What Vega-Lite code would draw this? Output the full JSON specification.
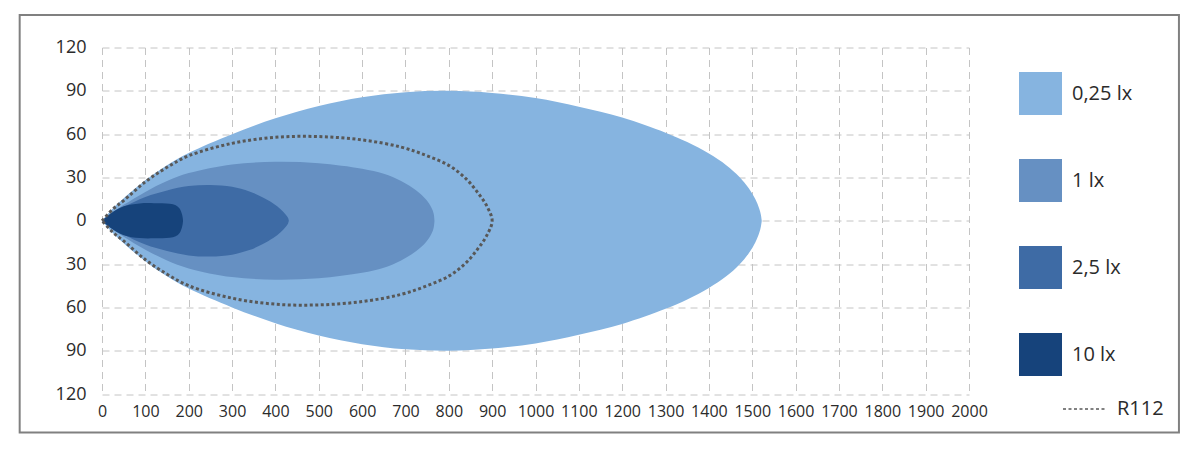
{
  "$schema": "https://vega.github.io/schema/vega-lite/v6.json",
  "width": 867,
  "height": 346.5,
  "autosize": {"type": "none"},
  "padding": {"left": 102, "top": 47.5, "right": 231, "bottom": 56},
  "background": "white",
  "config": {
    "view": {"stroke": null},
    "font": "Open Sans",
    "axis": {
      "domain": false,
      "ticks": false,
      "grid": true,
      "gridColor": "#c4c4c4",
      "gridDash": [7, 5],
      "gridWidth": 1,
      "labelFont": "Open Sans",
      "labelColor": "#2b2b2b",
      "labelFlush": false,
      "labelOverlap": false,
      "title": null,
      "zindex": 1
    },
    "legend": {
      "labelFont": "Open Sans",
      "labelFontSize": 20,
      "labelColor": "#2b2b2b",
      "title": null,
      "padding": 0
    }
  },
  "datasets": {
    "iso": [
      {"lx": "0,25 lx", "x": 0, "top": 0, "bottom": 0},
      {"lx": "0,25 lx", "x": 25, "top": 8.5, "bottom": -8.5},
      {"lx": "0,25 lx", "x": 50, "top": 15.5, "bottom": -15.5},
      {"lx": "0,25 lx", "x": 100, "top": 28, "bottom": -28},
      {"lx": "0,25 lx", "x": 150, "top": 38.5, "bottom": -38.5},
      {"lx": "0,25 lx", "x": 200, "top": 47, "bottom": -47},
      {"lx": "0,25 lx", "x": 300, "top": 60, "bottom": -60},
      {"lx": "0,25 lx", "x": 400, "top": 71, "bottom": -71},
      {"lx": "0,25 lx", "x": 500, "top": 79.5, "bottom": -79.5},
      {"lx": "0,25 lx", "x": 600, "top": 85.5, "bottom": -85.5},
      {"lx": "0,25 lx", "x": 700, "top": 89, "bottom": -89},
      {"lx": "0,25 lx", "x": 800, "top": 90, "bottom": -90},
      {"lx": "0,25 lx", "x": 900, "top": 88.5, "bottom": -88.5},
      {"lx": "0,25 lx", "x": 1000, "top": 85, "bottom": -85},
      {"lx": "0,25 lx", "x": 1100, "top": 79, "bottom": -79},
      {"lx": "0,25 lx", "x": 1200, "top": 71.5, "bottom": -71.5},
      {"lx": "0,25 lx", "x": 1300, "top": 61, "bottom": -61},
      {"lx": "0,25 lx", "x": 1350, "top": 54.5, "bottom": -54.5},
      {"lx": "0,25 lx", "x": 1400, "top": 46.5, "bottom": -46.5},
      {"lx": "0,25 lx", "x": 1440, "top": 38.5, "bottom": -38.5},
      {"lx": "0,25 lx", "x": 1470, "top": 30.5, "bottom": -30.5},
      {"lx": "0,25 lx", "x": 1492, "top": 22.5, "bottom": -22.5},
      {"lx": "0,25 lx", "x": 1507, "top": 15, "bottom": -15},
      {"lx": "0,25 lx", "x": 1516, "top": 8.5, "bottom": -8.5},
      {"lx": "0,25 lx", "x": 1520, "top": 4, "bottom": -4},
      {"lx": "0,25 lx", "x": 1522, "top": 0, "bottom": 0},
      {"lx": "1 lx", "x": 0, "top": 0, "bottom": 0},
      {"lx": "1 lx", "x": 25, "top": 6, "bottom": -6},
      {"lx": "1 lx", "x": 50, "top": 11, "bottom": -11},
      {"lx": "1 lx", "x": 100, "top": 20, "bottom": -20},
      {"lx": "1 lx", "x": 150, "top": 27.5, "bottom": -27.5},
      {"lx": "1 lx", "x": 200, "top": 33, "bottom": -33},
      {"lx": "1 lx", "x": 300, "top": 39, "bottom": -39},
      {"lx": "1 lx", "x": 400, "top": 40.8, "bottom": -40.8},
      {"lx": "1 lx", "x": 500, "top": 39.8, "bottom": -39.8},
      {"lx": "1 lx", "x": 600, "top": 36, "bottom": -36},
      {"lx": "1 lx", "x": 650, "top": 32.5, "bottom": -32.5},
      {"lx": "1 lx", "x": 690, "top": 27.5, "bottom": -27.5},
      {"lx": "1 lx", "x": 725, "top": 21, "bottom": -21},
      {"lx": "1 lx", "x": 748, "top": 14.5, "bottom": -14.5},
      {"lx": "1 lx", "x": 760, "top": 9, "bottom": -9},
      {"lx": "1 lx", "x": 765, "top": 5, "bottom": -5},
      {"lx": "1 lx", "x": 767, "top": 0, "bottom": 0},
      {"lx": "2,5 lx", "x": 0, "top": 0, "bottom": 0},
      {"lx": "2,5 lx", "x": 25, "top": 5, "bottom": -5},
      {"lx": "2,5 lx", "x": 50, "top": 9.5, "bottom": -9.5},
      {"lx": "2,5 lx", "x": 100, "top": 16.5, "bottom": -16.5},
      {"lx": "2,5 lx", "x": 150, "top": 21, "bottom": -21},
      {"lx": "2,5 lx", "x": 200, "top": 24, "bottom": -24},
      {"lx": "2,5 lx", "x": 250, "top": 24.8, "bottom": -24.8},
      {"lx": "2,5 lx", "x": 300, "top": 23.5, "bottom": -23.5},
      {"lx": "2,5 lx", "x": 340, "top": 20.3, "bottom": -20.3},
      {"lx": "2,5 lx", "x": 370, "top": 16.3, "bottom": -16.3},
      {"lx": "2,5 lx", "x": 395, "top": 12, "bottom": -12},
      {"lx": "2,5 lx", "x": 412, "top": 8, "bottom": -8},
      {"lx": "2,5 lx", "x": 423, "top": 4.5, "bottom": -4.5},
      {"lx": "2,5 lx", "x": 429, "top": 2, "bottom": -2},
      {"lx": "2,5 lx", "x": 431, "top": 0, "bottom": 0},
      {"lx": "10 lx", "x": 0, "top": 0, "bottom": 0},
      {"lx": "10 lx", "x": 20, "top": 5, "bottom": -5},
      {"lx": "10 lx", "x": 50, "top": 10, "bottom": -10},
      {"lx": "10 lx", "x": 87, "top": 12, "bottom": -12},
      {"lx": "10 lx", "x": 120, "top": 12.2, "bottom": -12.2},
      {"lx": "10 lx", "x": 156, "top": 11.8, "bottom": -11.8},
      {"lx": "10 lx", "x": 170, "top": 10.8, "bottom": -10.8},
      {"lx": "10 lx", "x": 179, "top": 8.5, "bottom": -8.5},
      {"lx": "10 lx", "x": 184, "top": 5, "bottom": -5},
      {"lx": "10 lx", "x": 186, "top": 2.5, "bottom": -2.5},
      {"lx": "10 lx", "x": 187, "top": 0, "bottom": 0}
    ],
    "r112": [
      {"name": "R112", "i": 1, "x": 0, "y": 0},
      {"name": "R112", "i": 2, "x": 25, "y": 8},
      {"name": "R112", "i": 3, "x": 50, "y": 14},
      {"name": "R112", "i": 4, "x": 100, "y": 27},
      {"name": "R112", "i": 5, "x": 150, "y": 37},
      {"name": "R112", "i": 6, "x": 200, "y": 45},
      {"name": "R112", "i": 7, "x": 300, "y": 53.6},
      {"name": "R112", "i": 8, "x": 400, "y": 57.8},
      {"name": "R112", "i": 9, "x": 500, "y": 58.3},
      {"name": "R112", "i": 10, "x": 600, "y": 56},
      {"name": "R112", "i": 11, "x": 690, "y": 51},
      {"name": "R112", "i": 12, "x": 750, "y": 45},
      {"name": "R112", "i": 13, "x": 802, "y": 38},
      {"name": "R112", "i": 14, "x": 840, "y": 29},
      {"name": "R112", "i": 15, "x": 868, "y": 19},
      {"name": "R112", "i": 16, "x": 888, "y": 10},
      {"name": "R112", "i": 17, "x": 900, "y": 0},
      {"name": "R112", "i": 18, "x": 888, "y": -10},
      {"name": "R112", "i": 19, "x": 868, "y": -19},
      {"name": "R112", "i": 20, "x": 840, "y": -29},
      {"name": "R112", "i": 21, "x": 802, "y": -38},
      {"name": "R112", "i": 22, "x": 750, "y": -45},
      {"name": "R112", "i": 23, "x": 690, "y": -51},
      {"name": "R112", "i": 24, "x": 600, "y": -56},
      {"name": "R112", "i": 25, "x": 500, "y": -58.3},
      {"name": "R112", "i": 26, "x": 400, "y": -57.8},
      {"name": "R112", "i": 27, "x": 300, "y": -53.6},
      {"name": "R112", "i": 28, "x": 200, "y": -45},
      {"name": "R112", "i": 29, "x": 150, "y": -37},
      {"name": "R112", "i": 30, "x": 100, "y": -27},
      {"name": "R112", "i": 31, "x": 50, "y": -14},
      {"name": "R112", "i": 32, "x": 25, "y": -8},
      {"name": "R112", "i": 33, "x": 0, "y": 0}
    ]
  },
  "layer": [
    {
      "data": {"name": "iso"},
      "mark": {"type": "area", "interpolate": "catmull-rom", "opacity": 1},
      "encoding": {
        "x": {
          "field": "x",
          "type": "quantitative",
          "scale": {"domain": [0, 2000], "nice": false, "zero": false},
          "axis": {"values": [0,100,200,300,400,500,600,700,800,900,1000,1100,1200,1300,1400,1500,1600,1700,1800,1900,2000], "format": "d", "labelPadding": 9, "labelFontSize": 16}
        },
        "y": {
          "field": "top",
          "type": "quantitative",
          "stack": null,
          "scale": {"domain": [-120, 120], "nice": false, "zero": false},
          "axis": {"values": [-120,-90,-60,-30,0,30,60,90,120], "labelExpr": "format(abs(datum.value), 'd')", "labelPadding": 16, "labelFontSize": 18}
        },
        "y2": {"field": "bottom"},
        "color": {
          "field": "lx",
          "type": "nominal",
          "sort": ["0,25 lx", "1 lx", "2,5 lx", "10 lx"],
          "scale": {"domain": ["0,25 lx", "1 lx", "2,5 lx", "10 lx"], "range": ["#86b4e0", "#6690c2", "#3e6ba5", "#16437b"]},
          "legend": {
            "orient": "none",
            "legendX": 917,
            "legendY": 24.5,
            "symbolType": "square",
            "symbolSize": 1849,
            "symbolStrokeWidth": 0,
            "symbolOpacity": 1,
            "rowPadding": 44,
            "labelOffset": 10
          }
        }
      }
    },
    {
      "data": {"name": "r112"},
      "mark": {"type": "line", "interpolate": "catmull-rom", "color": "#585858", "strokeWidth": 3, "strokeCap": "butt"},
      "encoding": {
        "x": {"field": "x", "type": "quantitative"},
        "y": {"field": "y", "type": "quantitative"},
        "order": {"field": "i", "type": "quantitative"},
        "strokeDash": {
          "field": "name",
          "type": "nominal",
          "scale": {"domain": ["R112"], "range": [[3, 2.5]]},
          "legend": {
            "orient": "none",
            "legendX": 960,
            "legendY": 339,
            "symbolType": "stroke",
            "symbolSize": 1849,
            "symbolStrokeColor": "#585858",
            "symbolStrokeWidth": 1.6,
            "labelOffset": 10
          }
        }
      }
    },
    {
      "data": {"values": [{}]},
      "mark": {"type": "rect", "filled": false, "stroke": "#808080", "strokeWidth": 2, "clip": false},
      "encoding": {
        "x": {"datum": -189.9, "type": "quantitative"},
        "x2": {"datum": 2484.3},
        "y": {"datum": 142.5, "type": "quantitative"},
        "y2": {"datum": -146.7}
      }
    }
  ]
}
